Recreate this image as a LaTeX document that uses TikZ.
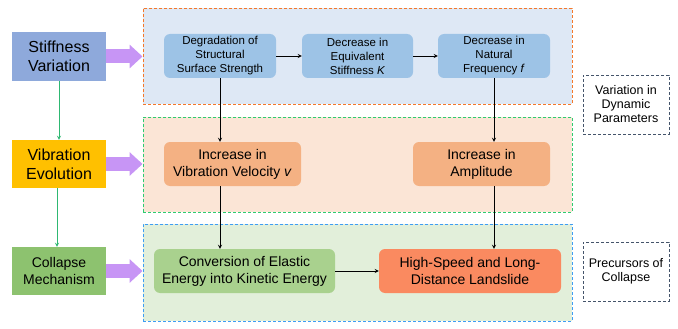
\documentclass[tikz,border=0pt]{standalone}
\usepackage{fontspec}
\setmainfont{Liberation Sans}
\usetikzlibrary{arrows.meta}

\definecolor{stiffblue}{HTML}{8EA9DB}
\definecolor{vibyellow}{HTML}{FFC000}
\definecolor{collgreen}{HTML}{8DC26F}
\definecolor{boxblue}{HTML}{9DC3E6}
\definecolor{boxorange}{HTML}{F4B183}
\definecolor{boxgreen}{HTML}{A9D18E}
\definecolor{boxred}{HTML}{FA8A60}
\definecolor{panelblue}{HTML}{DEE8F5}
\definecolor{panelorange}{HTML}{FBE5D6}
\definecolor{panelgreen}{HTML}{E2EFDA}
\definecolor{lineorange}{HTML}{F4782A}
\definecolor{linegreen}{HTML}{2ECC71}
\definecolor{lineblue}{HTML}{3D9DF3}
\definecolor{linegray}{HTML}{44546A}
\definecolor{arrowpurple}{HTML}{C795F5}
\definecolor{arrowgreen}{HTML}{2EB872}

\begin{document}
\begin{tikzpicture}[x=1pt, y=-1pt, >=stealth,
    mainbox/.style={rectangle, minimum width=94pt, minimum height=48pt, inner sep=0pt,
      align=center, font=\fontsize{16}{19}\selectfont},
    panel/.style={rectangle, minimum width=429pt, minimum height=96pt, line width=0.9pt,
      dash pattern=on 3pt off 2pt},
    stepbox/.style={rectangle, rounded corners=6pt, minimum height=44pt, inner sep=0pt, align=center},
    notebox/.style={rectangle, draw=linegray, line width=0.9pt, dash pattern=on 3pt off 2pt,
      minimum width=86pt, minimum height=59pt, align=center, font=\fontsize{12.5}{14}\selectfont},
    flow/.style={->, line width=0.8pt},
    bigarrow/.style={draw=arrowpurple, line width=14pt, -{Triangle[length=13pt, width=23pt]}}]
  \useasboundingbox (0,0) rectangle (678,329);

  % Panels
  \node[panel, fill=panelblue, draw=lineorange] (dynpanel) at (357.5,56) {};
  \node[panel, fill=panelorange, draw=linegreen, minimum height=95pt] (vibpanel) at (357.5,164.5) {};
  \node[panel, fill=panelgreen, draw=lineblue, minimum height=97pt] (collpanel) at (357.5,272.5) {};

  % Left column
  \node[mainbox, fill=stiffblue, minimum height=49pt] (stiff) at (59,56.5) {Stiffness\\Variation};
  \node[mainbox, fill=vibyellow] (vib) at (59,164) {Vibration\\Evolution};
  \node[mainbox, fill=collgreen, font=\fontsize{14}{17}\selectfont] (coll) at (59,271) {Collapse\\Mechanism};

  % Row 1
  \node[stepbox, fill=boxblue, minimum width=112pt, font=\fontsize{11.5}{14}\selectfont] (degr) at (220,56)
    {Degradation of\\Structural\\Surface Strength};
  \node[stepbox, fill=boxblue, minimum width=111pt, font=\fontsize{11.5}{14}\selectfont] (stiffk) at (357.5,56)
    {Decrease in\\Equivalent\\Stiffness \textit{K}};
  \node[stepbox, fill=boxblue, minimum width=112pt, font=\fontsize{11.5}{14}\selectfont] (freq) at (494,56)
    {Decrease in\\Natural\\Frequency \textit{f}};

  % Row 2
  \node[stepbox, fill=boxorange, minimum width=137pt, font=\fontsize{14}{17}\selectfont] (velo) at (232.5,164)
    {Increase in\\Vibration Velocity \textit{v}};
  \node[stepbox, fill=boxorange, minimum width=137pt, font=\fontsize{14}{17}\selectfont] (ampl) at (481.5,164)
    {Increase in\\Amplitude};

  % Row 3
  \node[stepbox, fill=boxgreen, minimum width=181pt, font=\fontsize{14}{17}\selectfont] (conv) at (244.5,271)
    {Conversion of Elastic\\Energy into Kinetic Energy};
  \node[stepbox, fill=boxred, minimum width=182pt, font=\fontsize{14}{17}\selectfont] (slide) at (470,271)
    {High-Speed and Long-\\Distance Landslide};

  % Notes
  \node[notebox] (note1) at (626,104.5) {Variation in\\Dynamic\\Parameters};
  \node[notebox] (note2) at (626,271.5) {Precursors of\\Collapse};

  % Big arrows
  \draw[bigarrow] (stiff.east) -- (stiff.east -| dynpanel.west);
  \draw[bigarrow] (vib.east) -- (vib.east -| vibpanel.west);
  \draw[bigarrow] (coll.east) -- (coll.east -| collpanel.west);

  % Left connectors
  \draw[flow, arrowgreen] (stiff.south) -- (vib.north);
  \draw[flow, arrowgreen] ([xshift=-2pt]vib.south) -- ([xshift=-2pt]coll.north);

  % Flow
  \draw[flow] (degr) -- (stiffk);
  \draw[flow] (stiffk) -- (freq);
  \draw[flow] (degr.south) -- (degr.south |- velo.north);
  \draw[flow] (freq.south) -- (freq.south |- ampl.north);
  \draw[flow] (degr.south |- velo.south) -- (degr.south |- conv.north);
  \draw[flow] (freq.south |- ampl.south) -- (freq.south |- slide.north);
  \draw[flow] (conv) -- (slide);
\end{tikzpicture}
\end{document}
